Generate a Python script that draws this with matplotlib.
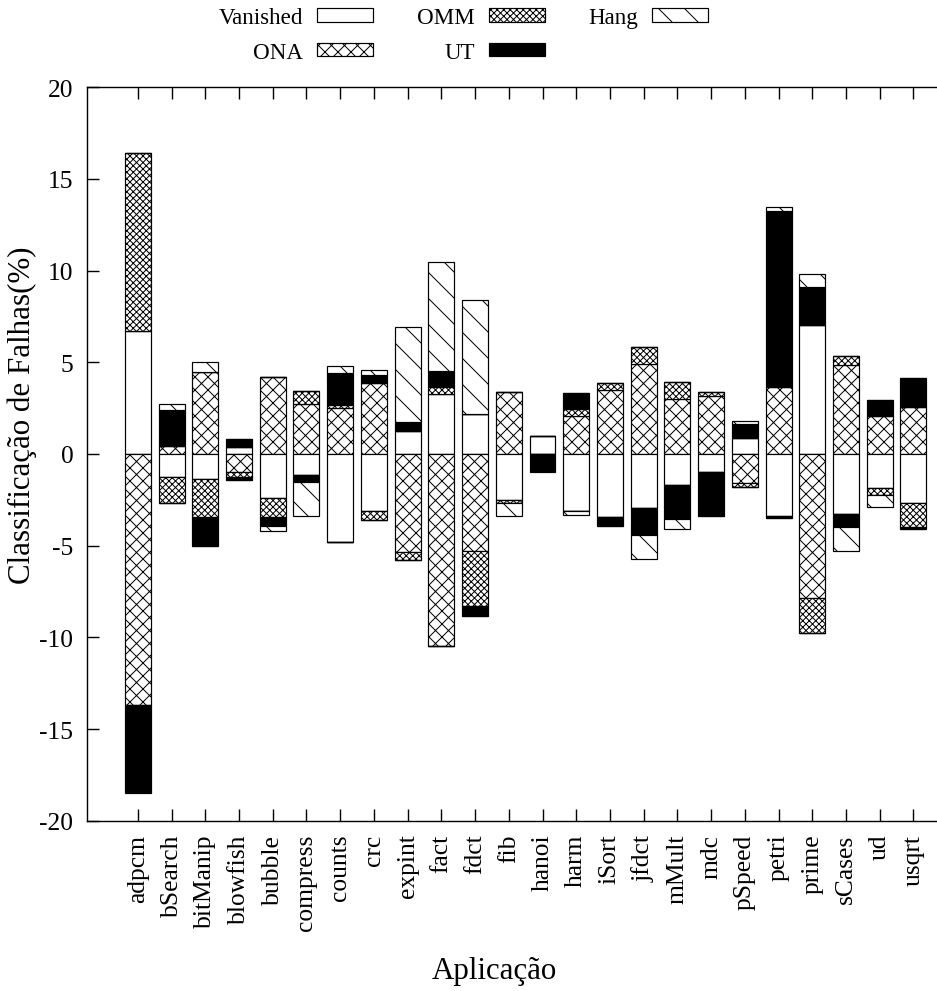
import numpy as np
import matplotlib
matplotlib.use('Agg')
import matplotlib.pyplot as plt

apps = ['adpcm', 'bSearch', 'bitManip', 'blowfish', 'bubble', 'compress', 'counts',
        'crc', 'expint', 'fact', 'fdct', 'fib', 'hanoi', 'harm', 'iSort', 'jfdct',
        'mMult', 'mdc', 'pSpeed', 'petri', 'prime', 'sCases', 'ud', 'usqrt']

# parte positiva (%)
vanished_up = [6.70, 0, 0, 0.38, 0, 0, 0, 0, 1.27, 3.27, 2.18, 0, 1.00, 0, 0, 0, 0, 0, 0.85, 0, 7.04, 0, 0, 0]
ona_up = [0, 0.45, 4.49, 0, 4.22, 2.71, 2.49, 3.85, 0, 0, 0, 3.40, 0, 2.09, 3.49, 4.90, 3.00, 3.18, 0, 3.67, 0, 4.87, 2.05, 2.58]
omm_up = [9.70, 0, 0, 0, 0, 0.71, 0.20, 0, 0, 0.36, 0, 0, 0, 0.36, 0.38, 0.91, 0.91, 0.22, 0, 0, 0, 0.45, 0, 0]
ut_up = [0, 1.96, 0, 0.44, 0, 0, 1.73, 0.47, 0.49, 0.87, 0, 0, 0, 0.87, 0, 0, 0, 0, 0.76, 9.60, 2.09, 0, 0.87, 1.55]
hang_up = [0, 0.30, 0.51, 0, 0, 0, 0.38, 0.27, 5.15, 5.98, 6.22, 0, 0, 0, 0, 0, 0, 0, 0.20, 0.18, 0.69, 0, 0, 0]

# parte negativa (%)
vanished_dn = [0, 1.27, 1.38, 0, 2.38, 1.15, 4.82, 3.09, 0, 0, 0, 2.51, 0, 3.09, 3.45, 2.96, 1.67, 0.96, 0, 3.40, 0, 3.27, 1.87, 2.69]
ona_dn = [13.68, 0, 0, 0.96, 0, 0, 0, 0, 5.36, 10.49, 5.31, 0, 0, 0, 0, 0, 0, 0, 1.60, 0, 7.87, 0, 0, 0]
omm_dn = [0, 1.42, 2.07, 0.31, 1.07, 0, 0, 0.51, 0.42, 0, 2.96, 0.18, 0, 0, 0, 0, 0, 0, 0.22, 0.05, 1.91, 0, 0.36, 1.31]
ut_dn = [4.78, 0, 1.55, 0.13, 0.45, 0.36, 0, 0, 0, 0, 0.55, 0, 0.90, 0, 0.45, 1.44, 1.87, 2.44, 0, 0.05, 0, 0.73, 0, 0.09]
hang_dn = [0.05, 0, 0, 0, 0.31, 1.89, 0, 0, 0, 0, 0, 0.71, 0.08, 0.22, 0, 1.33, 0.55, 0, 0, 0, 0, 1.31, 0.67, 0]

DPI = 156
px = 72.0 / DPI  # pontos por pixel

plt.rcParams['font.family'] = ['Liberation Serif', 'DejaVu Serif']
plt.rcParams['axes.unicode_minus'] = False
plt.rcParams['hatch.linewidth'] = 1.0 * px
plt.rcParams['hatch.color'] = 'black'

fig = plt.figure(figsize=(937 / DPI, 992 / DPI), dpi=DPI)
ax = fig.add_axes([87.3 / 937, 1 - 821.7 / 992, (964 - 87.3) / 937, (821.7 - 88.3) / 992])

x = np.arange(len(apps))
w = 0.77
estilos = [('Vanished', 'white', ''), ('ONA', 'white', 'xxxx'), ('OMM', 'white', 'xxxxxxxx'),
           ('UT', 'black', ''), ('Hang', 'white', '\\\\')]

series_up = [vanished_up, ona_up, omm_up, ut_up, hang_up]
series_dn = [vanished_dn, ona_dn, omm_dn, ut_dn, hang_dn]

base = np.zeros(len(apps))
for (nome, cor, hatch), vals in zip(estilos, series_up):
    v = np.array(vals)
    ax.bar(x, v, w, bottom=base, color=cor, edgecolor='black', hatch=hatch,
           linewidth=1.2 * px, label=nome)
    base = base + v

base = np.zeros(len(apps))
for (nome, cor, hatch), vals in zip(estilos, series_dn):
    v = np.array(vals)
    ax.bar(x, -v, w, bottom=base, color=cor, edgecolor='black', hatch=hatch,
           linewidth=1.2 * px)
    base = base - v

ax.set_xlim(-1.5, 24.5)
ax.set_ylim(-20, 20)
ax.set_yticks(np.arange(-20, 21, 5))
ax.set_xticks(x)
ax.set_xticklabels(apps, rotation=90, va='top', ha='center')

for s in ax.spines.values():
    s.set_linewidth(1.4 * px)

ax.tick_params(axis='y', direction='in', length=12 * px, width=1.4 * px,
               labelsize=25.5 * px, pad=14 * px, right=True)
ax.tick_params(axis='x', direction='in', length=12 * px, width=1.4 * px,
               labelsize=25.5 * px, pad=13 * px, top=True)

ax.set_ylabel('Classificação de Falhas(%)', fontsize=31 * px, va='center')
ax.yaxis.set_label_coords((22 - 87.3) / 877, (821.7 - 415) / 733.4)
ax.set_xlabel('Aplicação', fontsize=31 * px, va='center')
ax.xaxis.set_label_coords((495 - 87.3) / 877, (821.7 - 972) / 733.4)

fs_leg = 23 * px
fig.legend(loc='upper left', bbox_to_anchor=(218.7 / 937, 1 - 8 / 992), ncol=3,
           frameon=False, markerfirst=False, fontsize=fs_leg, borderpad=0,
           handlelength=56 / 23, handleheight=12 / 23, handletextpad=0.6,
           columnspacing=44 / 23, labelspacing=0.6, borderaxespad=0)

fig.savefig('out.png', dpi=DPI)
